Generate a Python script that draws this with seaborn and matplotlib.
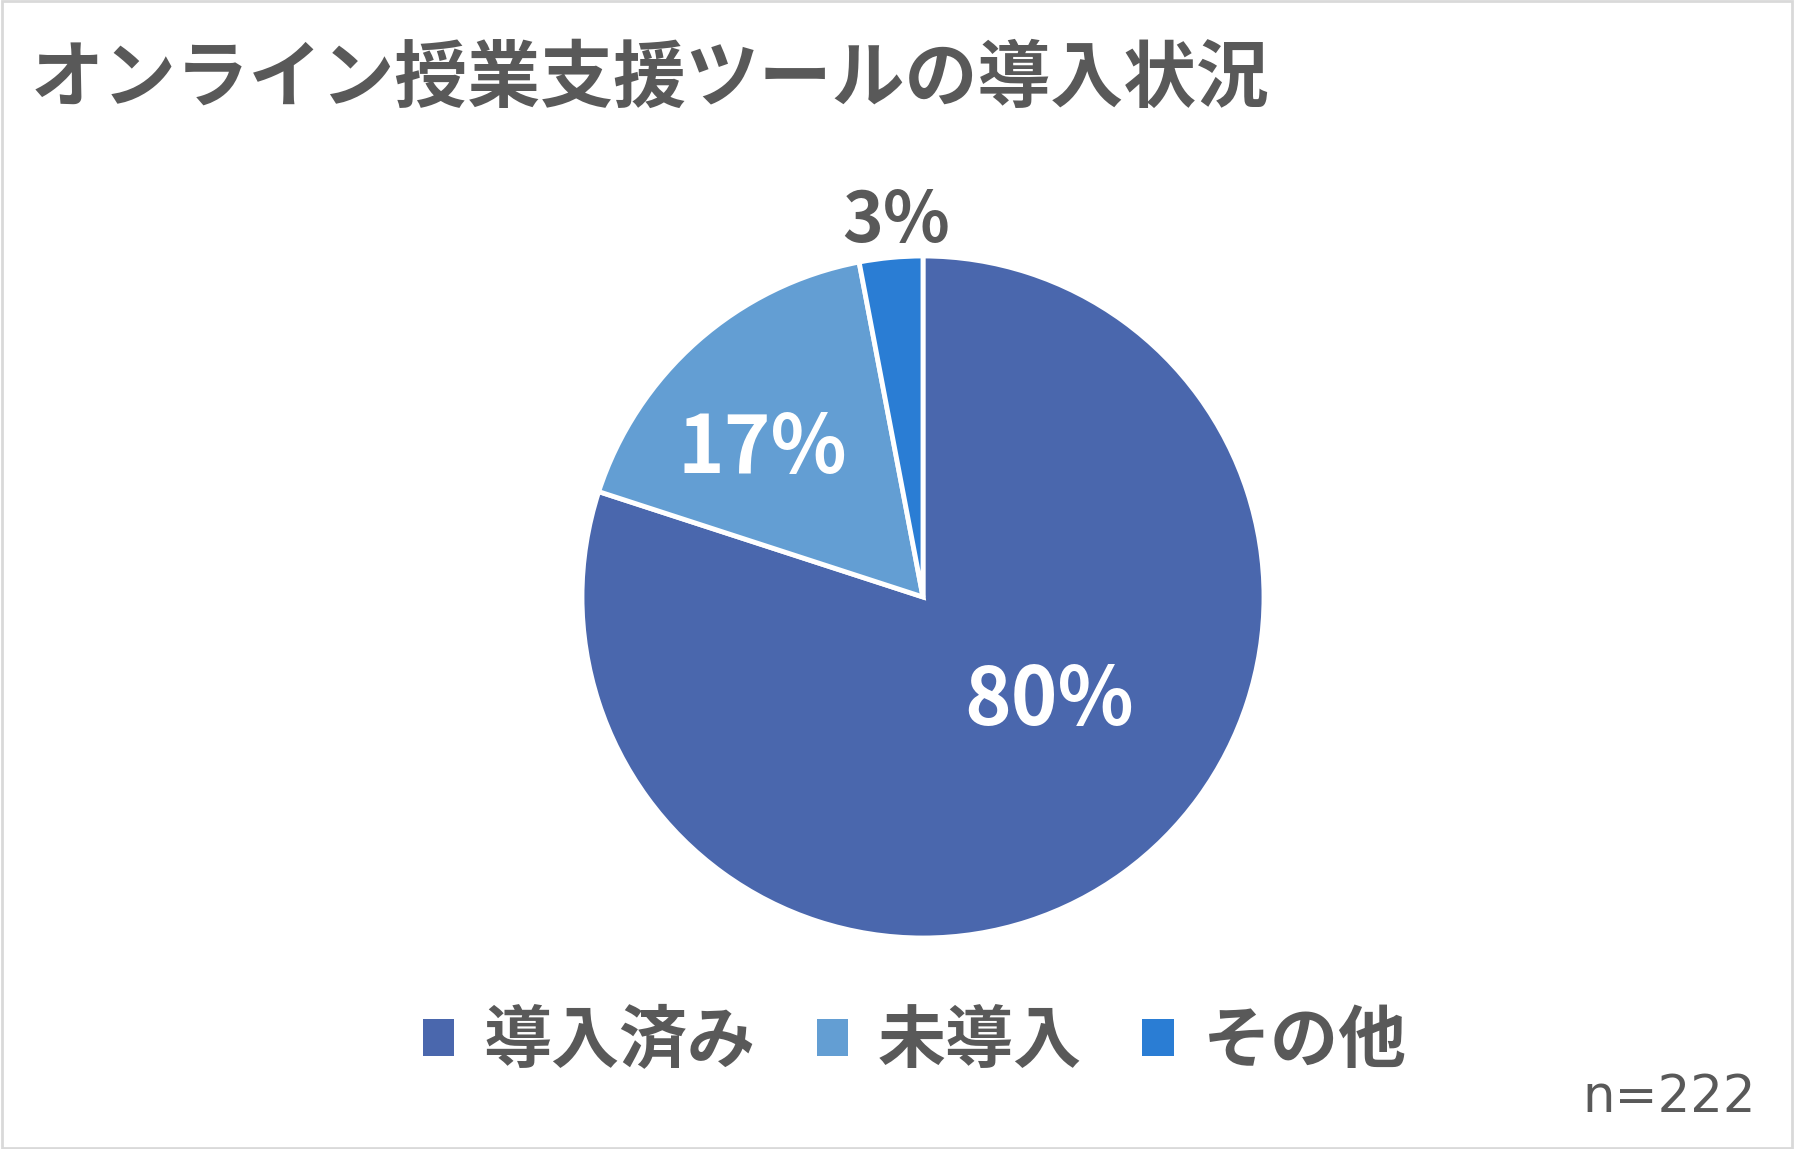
import matplotlib
matplotlib.use("Agg")
import matplotlib.pyplot as plt
from matplotlib.patches import Patch, Rectangle
import seaborn as sns

# data
labels = ["導入済み", "未導入", "その他"]
shares = [80, 17, 3]
colors = ["#4A67AD", "#639ED3", "#2A7DD4"]
title = "オンライン授業支援ツールの導入状況"
note = "n=222"

# label offsets (in pie-radius units) and sizes as placed in the original
label_pos = [(0.37, -0.307), (-0.47, 0.433), (-0.08, 1.10)]
label_colors = ["white", "white", "#595959"]
label_sizes = [57, 57, 50]

sns.set_style("white")
plt.rcParams["font.family"] = ["Noto Sans CJK JP", "DejaVu Sans"]

TEXT = "#595959"

fig = plt.figure(figsize=(17.94, 11.49), dpi=100)
fig.patch.set_facecolor("white")

# pie centre at (923, 597) px, radius ~341 px
w = 2 * 341 / 1794
h = 2 * 341 / 1149
ax = fig.add_axes([923 / 1794 - w / 2, (1149 - 597) / 1149 - h / 2, w, h])
wedges, _, autotexts = ax.pie(
    shares, colors=colors, startangle=90, counterclock=False,
    autopct="%d%%", radius=1.0,
    wedgeprops=dict(edgecolor="white", linewidth=3.5),
)
for t, (x, y), c, s in zip(autotexts, label_pos, label_colors, label_sizes):
    t.set_position((x, y))
    t.set_color(c)
    t.set_fontsize(s)
    t.set_fontweight("bold")
    t.set_clip_on(False)
ax.set_xlim(-1, 1)
ax.set_ylim(-1, 1)
ax.set_aspect("equal")
ax.axis("off")

fig.text(0.017, 0.931, title, fontsize=52.5, fontweight="bold", color=TEXT,
         ha="left", va="center")

handles = [Patch(facecolor=c, edgecolor="none") for c in colors]
leg = fig.legend(handles, labels, loc="center", bbox_to_anchor=(0.51, 0.093),
                 ncol=3, frameon=False,
                 prop=dict(size=49, weight="bold"),
                 handlelength=0.46, handleheight=0.46, handletextpad=0.43,
                 columnspacing=0.9)
for t in leg.get_texts():
    t.set_color(TEXT)

fig.text(0.979, 0.044, note, fontsize=37, color=TEXT,
         ha="right", va="center", family=["DejaVu Sans"])

# thin grey frame around the chart area
fig.add_artist(Rectangle((0.001, 0.001), 0.998, 0.998, transform=fig.transFigure,
                         fill=False, edgecolor="#D9D9D9", linewidth=2))

fig.savefig("out.png", dpi=100)
plt.close(fig)
